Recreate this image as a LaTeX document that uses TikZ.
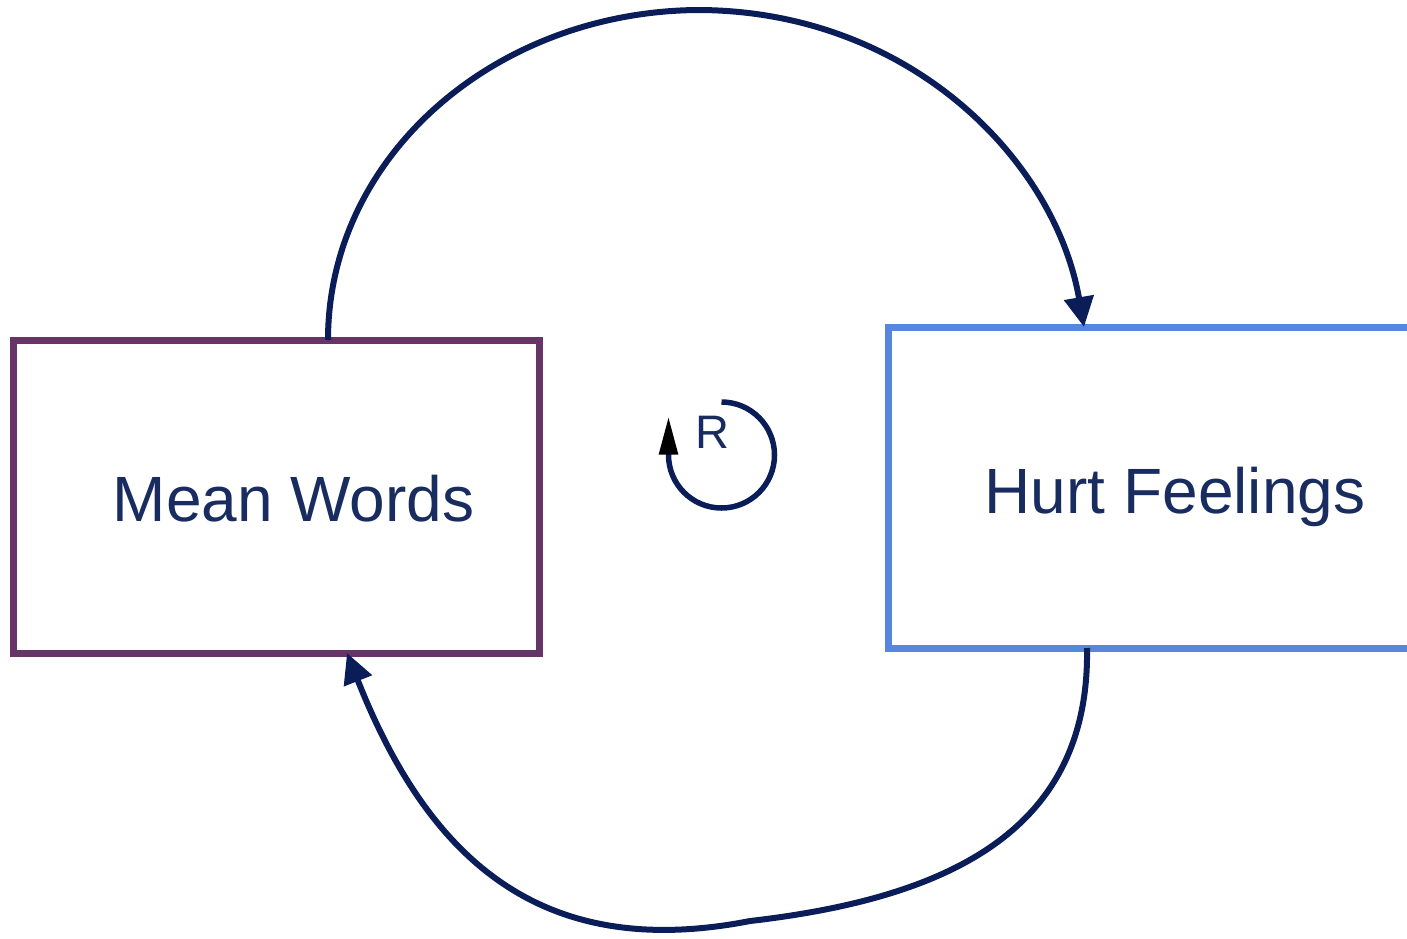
\documentclass[tikz,border=0pt]{standalone}
\usepackage{fontspec}
\setmainfont{Liberation Sans}
\usetikzlibrary{arrows.meta}
\definecolor{linknavy}{RGB}{10,29,88}
\definecolor{textnavy}{RGB}{24,44,96}
\definecolor{plum}{RGB}{103,52,103}
\definecolor{cornflower}{RGB}{86,134,222}
\tikzset{
  stock/.style={draw, line width=7pt, inner sep=0pt, outer sep=0pt},
  label/.style={text=textnavy, font=\fontsize{64}{70}\selectfont, anchor=base, inner sep=0pt},
  link/.style={draw=linknavy, line width=6pt,
    -{Triangle[length=30pt,width=29pt,color=linknavy]}},
}
\begin{document}
\begin{tikzpicture}[x=1pt,y=-1pt]
  \useasboundingbox (0,0) rectangle (1407,938);

  % the two stocks
  \node[stock, draw=plum, minimum width=525.5pt, minimum height=313pt] (mean) at (276.25,496.5) {};
  \node[stock, draw=cornflower, minimum width=560pt, minimum height=321pt] (hurt) at (1168,487.5) {};
  \node[label] (meantxt) at (293.5,521) {Mean Words};
  \node[label] (hurttxt) at (1175,513) {Hurt Feelings};

  % attachment points on the boxes
  \coordinate (mx) at (328,0);
  \coordinate (hx) at (1084,0);
  \coordinate (hb) at (1087,0);
  \coordinate (mb) at (347,0);
  \coordinate (top) at (697,10);
  \coordinate (low) at (750,921);

  % causal links
  \draw[link] (mean.north -| mx) .. controls (328,157) and (494,12) .. (top)
              .. controls (909,10) and (1055,160) .. (hurt.north -| hx);
  \draw[link] (hurt.south -| hb) .. controls (1090,830) and (950,898) .. (low)
              .. controls (540,962) and (428,858) .. (mean.south -| mb);

  % reinforcing loop marker
  \draw[draw=linknavy, line width=5.5pt,
        -{Triangle[length=38pt,width=18pt,color=black]}]
    (721.5,402) arc[start angle=-90, end angle=180, radius=53] coordinate (rl)
    -- ++(0,-38.5);
  \node[text=textnavy, font=\fontsize{47}{50}\selectfont, anchor=base, inner sep=0pt] (r) at (712,448) {R};
\end{tikzpicture}
\end{document}
